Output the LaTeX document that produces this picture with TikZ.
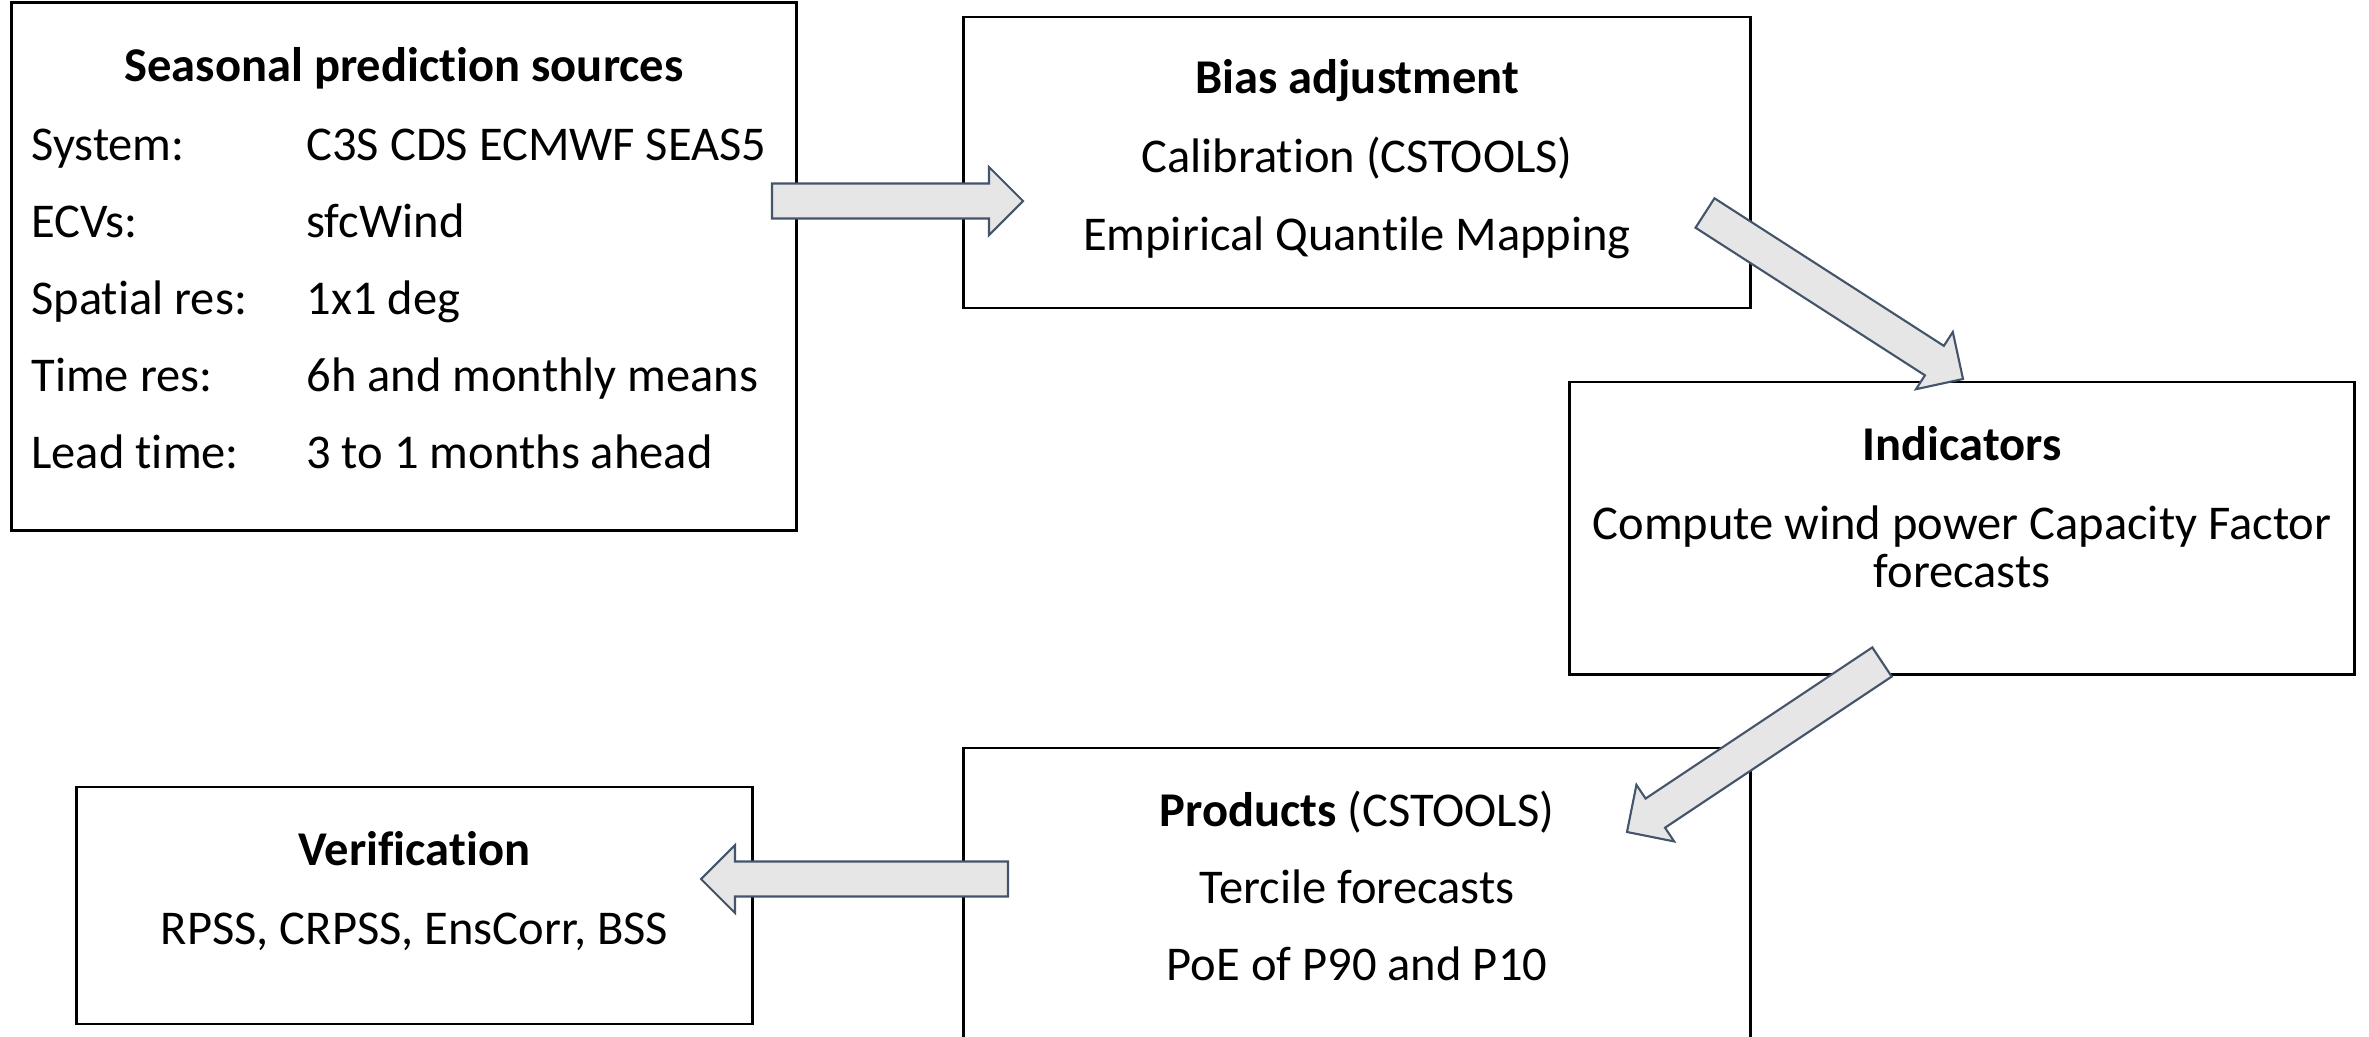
\documentclass[tikz,border=0pt]{standalone}
\usepackage{fontspec}
\setmainfont{Carlito}[Ligatures=NoCommon]
\usetikzlibrary{calc}

\definecolor{arrowedge}{HTML}{44546A}
\definecolor{arrowfill}{HTML}{E6E6E6}
\newcommand{\stagefont}{\fontsize{13.8}{17}\selectfont}

\tikzset{
  stagebox/.style={draw=black, line width=0.8pt, inner sep=0pt},
  boxtitle/.style={anchor=base, font=\stagefont\bfseries},
  boxline/.style={anchor=base},
  fieldname/.style={anchor=base west},
  blockarrow/.style={fill=arrowfill, draw=arrowedge, line width=0.6pt, line join=miter},
}

% block arrow from tail coordinate #1 to tip coordinate #2
\newcommand{\flowarrow}[2]{%
  \coordinate (#1-head) at ($(#2)!0.34cm!(#1)$);
  \filldraw[blockarrow]
    ($(#1)!0.175cm!90:(#2)$) -- ($(#1-head)!0.175cm!-90:(#1)$)
    -- ($(#1-head)!0.34cm!-90:(#1)$) -- (#2)
    -- ($(#1-head)!0.34cm!90:(#1)$) -- ($(#1-head)!0.175cm!90:(#1)$)
    -- ($(#1)!0.175cm!-90:(#2)$) -- cycle;
}

\begin{document}
\begin{tikzpicture}[x=0.01cm, y=-0.01cm, font=\stagefont]
  \useasboundingbox (0,0) rectangle (2369,1036);
  \clip (0,0) rectangle (2369,1036);

  % Boxes
  \node[stagebox, minimum width=7.84cm, minimum height=5.27cm] (sources) at (404,266.5) {};
  \node[stagebox, minimum width=7.86cm, minimum height=2.91cm] (bias) at (1357,162.5) {};
  \node[stagebox, minimum width=7.84cm, minimum height=2.92cm] (indicators) at (1962,528) {};
  \node[stagebox, minimum width=7.86cm, minimum height=3.12cm] (products) at (1357,904) {};
  \node[stagebox, minimum width=6.75cm, minimum height=2.37cm] (verif) at (414.5,905.5) {};

  % Seasonal prediction sources
  \node[boxtitle] (srctitle) at (404,81) {Seasonal prediction sources};
  \foreach \lbl/\val [count=\i] in {System:/C3S CDS ECMWF SEAS5, ECVs:/sfcWind,
      Spatial res:/1x1 deg, Time res:/6h and monthly means, Lead time:/3 to 1 months ahead} {
    \node[fieldname] (lbl\i) at (19,83+77*\i) {\lbl};
    \node[fieldname] (val\i) at (294,83+77*\i) {\val};
  }

  % Bias adjustment
  \node[boxtitle] (biastitle) at (1357,93) {Bias adjustment};
  \node[boxline] (calib) at (1357,172) {Calibration (CSTOOLS)};
  \node[boxline] (eqm) at (1357,250) {Empirical Quantile Mapping};

  % Indicators
  \node[boxtitle] (indtitle) at (1962,460) {Indicators};
  \node[boxline] (cf) at (1962,539) {Compute wind power Capacity Factor};
  \node[boxline] (cf2) at (1962,587) {forecasts};

  % Products
  \node[boxline] (prodtitle) at (1357,826) {\textbf{Products} (CSTOOLS)};
  \node[boxline] (tercile) at (1357,903) {Tercile forecasts};
  \node[boxline] (poe) at (1357,980) {PoE of P90 and P10};

  % Verification
  \node[boxtitle] (veriftitle) at (414.5,865) {Verification};
  \node[boxline] (scores) at (414.5,944) {RPSS, CRPSS, EnsCorr, BSS};

  % Arrows
  \coordinate (a1s) at (772,201);   \coordinate (a1e) at (1023,201);
  \coordinate (a2s) at (1705,213);  \coordinate (a2e) at (1963,379);
  \coordinate (a3s) at (1882,662);  \coordinate (a3e) at (1627,832);
  \coordinate (a4s) at (1008,879);  \coordinate (a4e) at (701,879);
  \flowarrow{a1s}{a1e}
  \flowarrow{a2s}{a2e}
  \flowarrow{a3s}{a3e}
  \flowarrow{a4s}{a4e}
\end{tikzpicture}
\end{document}
